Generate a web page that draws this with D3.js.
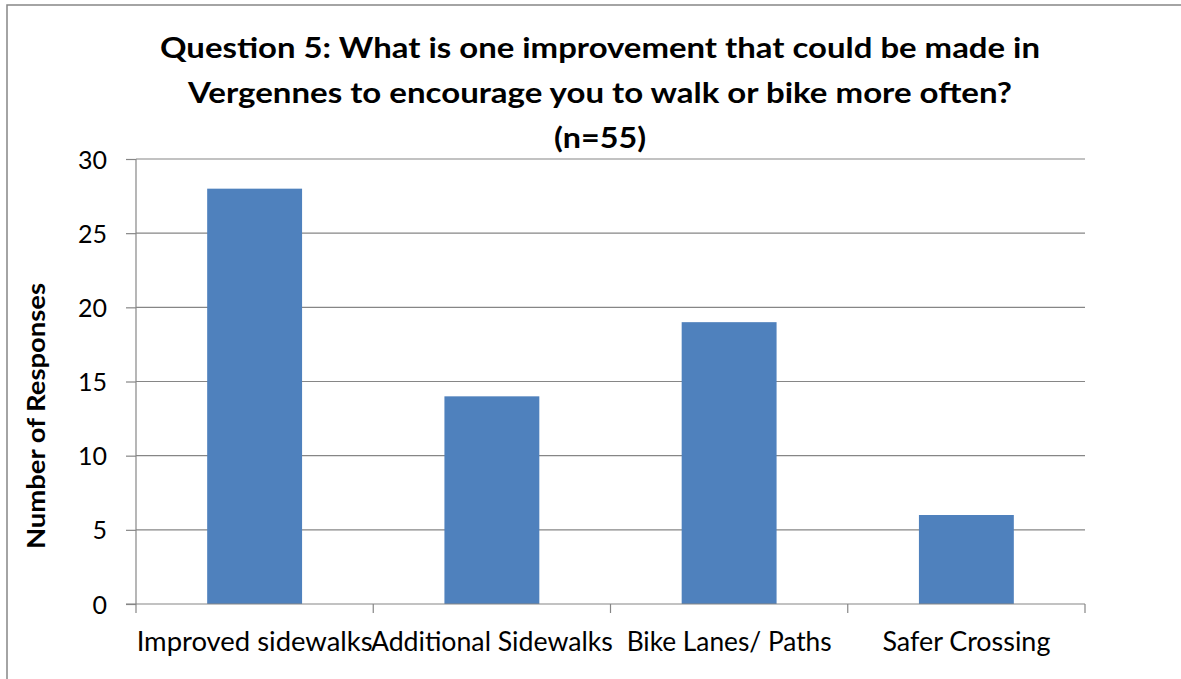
<!DOCTYPE html>
<html>
<head>
<meta charset="utf-8">
<script src="https://cdn.jsdelivr.net/npm/d3@7"></script>
<style>
html,body{margin:0;padding:0;background:#fff;}
svg{display:block;}
text{font-family:Lato,"Open Sans",sans-serif;fill:#000;}
</style>
</head>
<body>
<script>
const categories = ["Improved sidewalks", "Additional Sidewalks", "Bike Lanes/ Paths", "Safer Crossing"];
const values = [28, 14, 19, 6];
const yTicks = [0, 5, 10, 15, 20, 25, 30];
const titleLines = ["Question 5: What is one improvement that could be made in", "Vergennes to encourage you to walk or bike more often?", "(n=55)"];
const yAxisTitle = "Number of Responses";

const W = 1181, H = 679;
const svg = d3.select("body").append("svg").attr("width", W).attr("height", H);

// outer chart border
svg.append("rect").attr("x", 7).attr("y", 5).attr("width", 1200).attr("height", 700)
  .attr("fill", "none").attr("stroke", "#868686").attr("stroke-width", 1.5);

const plot = {left: 136, right: 1085, top: 159, bottom: 604};
const x = d3.scaleBand().domain(categories).range([plot.left, plot.right]).paddingInner(0.6).paddingOuter(0.3);
const y = d3.scaleLinear().domain([0, 30]).range([plot.bottom, plot.top]);

// gridlines
svg.append("g").selectAll("line").data(yTicks.filter(d => d > 0)).join("line")
  .attr("x1", plot.left).attr("x2", plot.right)
  .attr("y1", d => y(d)).attr("y2", d => y(d))
  .attr("stroke", "#868686").attr("stroke-width", 1.2);

// bars
svg.append("g").selectAll("rect").data(values).join("rect")
  .attr("x", (d, i) => x(categories[i]))
  .attr("width", x.bandwidth())
  .attr("y", d => y(d))
  .attr("height", d => y(0) - y(d))
  .attr("fill", "#4F81BD");

// y axis
const yAxis = d3.axisLeft(y).tickValues(yTicks).tickSize(10).tickPadding(19).tickFormat(d3.format("d"));
const gy = svg.append("g").attr("transform", `translate(${plot.left},0)`).call(yAxis);
gy.select(".domain").attr("stroke", "#868686").attr("stroke-width", 1.2).attr("d", `M0,${plot.bottom}V${plot.top}`);
gy.selectAll(".tick line").attr("stroke", "#868686").attr("stroke-width", 1.2);
gy.selectAll(".tick text").attr("font-size", 25).attr("font-family", "Lato").attr("fill", "#000").attr("dy", "0.36em");

// x axis: baseline and boundary ticks
const gx = svg.append("g");
gx.append("line").attr("x1", plot.left - 10).attr("x2", plot.right).attr("y1", plot.bottom).attr("y2", plot.bottom)
  .attr("stroke", "#868686").attr("stroke-width", 1.2);
const step = x.step();
const bounds = d3.range(categories.length + 1).map(i => plot.left + i * step);
gx.selectAll("line.tk").data(bounds).join("line").attr("class", "tk")
  .attr("x1", d => d).attr("x2", d => d).attr("y1", plot.bottom).attr("y2", plot.bottom + 9)
  .attr("stroke", "#868686").attr("stroke-width", 1.2);

const labelWidths = [236, 242, 205, 168];
gx.selectAll("text").data(categories).join("text")
  .attr("x", d => x(d) + x.bandwidth() / 2)
  .attr("y", 651)
  .attr("text-anchor", "middle")
  .attr("font-size", 26)
  .attr("textLength", (d, i) => labelWidths[i])
  .attr("lengthAdjust", "spacingAndGlyphs")
  .text(d => d);

// title
const titleBaselines = [58, 103, 148];
const titleWidths = [880, 824, 92];
svg.append("g").selectAll("text").data(titleLines).join("text")
  .attr("x", 600).attr("y", (d, i) => titleBaselines[i])
  .attr("text-anchor", "middle").attr("font-weight", "bold").attr("font-size", 29)
  .attr("textLength", (d, i) => titleWidths[i]).attr("lengthAdjust", "spacingAndGlyphs")
  .text(d => d);

// y axis title
svg.append("text")
  .attr("transform", "translate(45,416) rotate(-90)")
  .attr("text-anchor", "middle").attr("font-weight", "bold").attr("font-size", 25)
  .attr("textLength", 266).attr("lengthAdjust", "spacingAndGlyphs")
  .text(yAxisTitle);
</script>
</body>
</html>
